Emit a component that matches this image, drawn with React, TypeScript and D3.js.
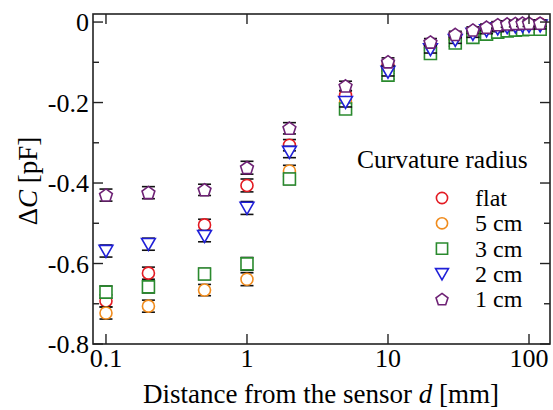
import React from "react";
import * as d3 from "d3";

const distances = [0.1, 0.2, 0.5, 1, 2, 5, 10, 20, 30, 40, 50, 60, 70, 80, 90, 100, 120];

const flatValues = [-0.693, -0.624, -0.504, -0.406, -0.306, -0.182, -0.108, -0.056, -0.036, -0.026, -0.018, -0.013, -0.01, -0.008, -0.007, -0.006, -0.005];
const cm5Values = [-0.723, -0.706, -0.666, -0.639, -0.37, -0.2, -0.118, -0.062, -0.042, -0.03, -0.022, -0.018, -0.015, -0.013, -0.012, -0.011, -0.01];
const cm3Values = [-0.671, -0.658, -0.626, -0.601, -0.39, -0.216, -0.132, -0.078, -0.052, -0.038, -0.03, -0.025, -0.022, -0.02, -0.019, -0.018, -0.018];
const cm2Values = [-0.569, -0.552, -0.532, -0.462, -0.323, -0.199, -0.124, -0.068, -0.045, -0.03, -0.021, -0.016, -0.013, -0.011, -0.01, -0.01, -0.009];
const cm1Values = [-0.43, -0.424, -0.417, -0.362, -0.264, -0.159, -0.099, -0.05, -0.031, -0.02, -0.013, -0.007, -0.005, -0.004, -0.003, -0.003, -0.003];

const errValues = [0.015, 0.015, 0.014, 0.016, 0.014, 0.012, 0.01, 0.009, 0.008, 0.008, 0.008, 0.008, 0.008, 0.008, 0.008, 0.008, 0.008];

const seriesNames = ["flat", "5 cm", "3 cm", "2 cm", "1 cm"];
const seriesColors = ["#e31b23", "#f08c1e", "#2a8a2e", "#2020d8", "#6e2275"];
const seriesShapes = ["circle", "circle", "square", "triangle", "pentagon"];
const seriesValues = [flatValues, cm5Values, cm3Values, cm2Values, cm1Values];

const yTicks = [0, -0.2, -0.4, -0.6, -0.8];
const yMinorTicks = [-0.1, -0.3, -0.5, -0.7];
const xTicks = [0.1, 1, 10, 100];
const xTickLabels = ["0.1", "1", "10", "100"];

const W = 553;
const H = 410;
const L = 93, R = 550, T = 14, B = 344;
const FONT = "'Liberation Serif', 'Times New Roman', serif";

function markerPath(shape: string, s: number): string {
  if (shape === "circle") {
    return d3.symbol(d3.symbolCircle, Math.PI * s * s)() as string;
  }
  if (shape === "square") {
    return `M${-s},${-s}H${s}V${s}H${-s}Z`;
  }
  if (shape === "triangle") {
    const w = s * 1.15;
    return `M${-w},${-s * 0.95}L${w},${-s * 0.95}L0,${s * 1.05}Z`;
  }
  const pts: string[] = [];
  const r = s * 1.12;
  for (let i = 0; i < 5; i++) {
    const a = -Math.PI / 2 + (i * 2 * Math.PI) / 5;
    pts.push(`${(r * Math.cos(a)).toFixed(2)},${(r * Math.sin(a) + 0.5).toFixed(2)}`);
  }
  return "M" + pts.join("L") + "Z";
}

export default function App() {
  const x = d3.scaleLog().domain([0.0809, 140.9]).range([L, R]);
  const y = d3.scaleLinear().domain([-0.8, 0.02]).range([B, T]);
  const ms = 6;
  const capW = 6.5;

  return (
    <svg width={W} height={H} style={{ position: "absolute", left: 0, top: 0, background: "#fff" }}>
      <rect x={0} y={0} width={W} height={H} fill="#fff" />
      {seriesValues.map((vals, si) => (
        <g key={si}>
          {vals.map((v, i) => {
            const cx = x(distances[i]);
            const e = errValues[i];
            return (
              <g key={i}>
                <line x1={cx - capW} x2={cx + capW} y1={y(v + e)} y2={y(v + e)} stroke="#111" strokeWidth={1.6} />
                <line x1={cx - capW} x2={cx + capW} y1={y(v - e)} y2={y(v - e)} stroke="#111" strokeWidth={1.6} />
                <line x1={cx} x2={cx} y1={y(v + e)} y2={y(v - e)} stroke="#111" strokeWidth={1} />
                <path
                  d={markerPath(seriesShapes[si], ms)}
                  transform={`translate(${cx},${y(v)})`}
                  fill="#fff"
                  stroke={seriesColors[si]}
                  strokeWidth={1.6}
                />
              </g>
            );
          })}
        </g>
      ))}
      <rect x={L} y={T} width={R - L} height={B - T} fill="none" stroke="#222" strokeWidth={1.6} />
      {yTicks.map((t) => (
        <g key={"y" + t}>
          <line x1={L} x2={L + 10} y1={y(t)} y2={y(t)} stroke="#222" strokeWidth={1.4} />
          <line x1={R} x2={R - 10} y1={y(t)} y2={y(t)} stroke="#222" strokeWidth={1.4} />
          <text x={L - 4} y={y(t)} dy="0.35em" textAnchor="end" fontFamily={FONT} fontSize={26} fill="#000">
            {t === 0 ? "0" : d3.format(".1f")(t).replace("−", "-")}
          </text>
        </g>
      ))}
      {yMinorTicks.map((t) => (
        <g key={"ym" + t}>
          <line x1={L} x2={L + 6} y1={y(t)} y2={y(t)} stroke="#222" strokeWidth={1.4} />
          <line x1={R} x2={R - 6} y1={y(t)} y2={y(t)} stroke="#222" strokeWidth={1.4} />
        </g>
      ))}
      {xTicks.map((t, i) => (
        <g key={"x" + t}>
          <line x1={x(t)} x2={x(t)} y1={B} y2={B - 10} stroke="#222" strokeWidth={1.4} />
          <line x1={x(t)} x2={x(t)} y1={T} y2={T + 10} stroke="#222" strokeWidth={1.4} />
          <text x={x(t)} y={B + 23} textAnchor="middle" fontFamily={FONT} fontSize={26} fill="#000">
            {xTickLabels[i]}
          </text>
        </g>
      ))}
      <text x={321} y={403} textAnchor="middle" fontFamily={FONT} fontSize={27} fill="#000">
        Distance from the sensor <tspan fontStyle="italic">d</tspan> [mm]
      </text>
      <text
        transform={`translate(37,181) rotate(-90)`}
        textAnchor="middle"
        fontFamily={FONT}
        fontSize={27}
        fill="#000"
      >
        Δ<tspan fontStyle="italic">C</tspan> [pF]
      </text>
      <text x={357} y={168} fontFamily={FONT} fontSize={25.5} fill="#000">
        Curvature radius
      </text>
      {seriesNames.map((n, i) => {
        const ry = 198 + i * 25.3;
        return (
          <g key={n}>
            <path
              d={markerPath(seriesShapes[i], 5.6)}
              transform={`translate(442,${ry})`}
              fill="#fff"
              stroke={seriesColors[i]}
              strokeWidth={1.6}
            />
            <text x={475} y={ry} dy="0.33em" fontFamily={FONT} fontSize={24} fill="#000">
              {n}
            </text>
          </g>
        );
      })}
    </svg>
  );
}
